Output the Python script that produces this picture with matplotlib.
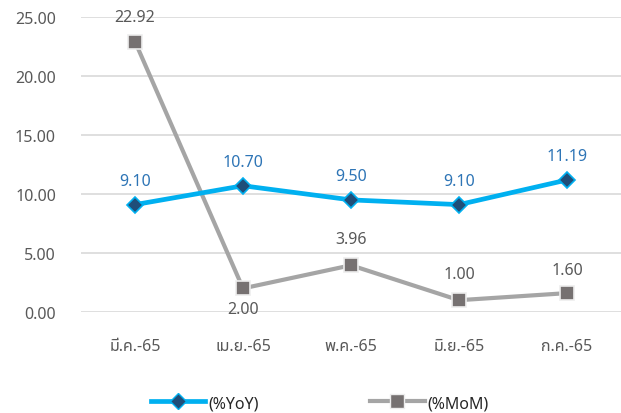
import matplotlib
matplotlib.use("Agg")
import matplotlib.pyplot as plt
from matplotlib.lines import Line2D

plt.rcParams['font.family'] = ['Noto Sans', 'Noto Sans Thai UI']

categories = ["มี.ค.-65", "เม.ย.-65", "พ.ค.-65", "มิ.ย.-65", "ก.ค.-65"]
yoy = [9.10, 10.70, 9.50, 9.10, 11.19]
mom = [22.92, 2.00, 3.96, 1.00, 1.60]
yticks = [0, 5, 10, 15, 20, 25]
series_names = ["(%YoY)", "(%MoM)"]

fs = 11.5
fig = plt.figure(figsize=(6.21, 4.14), dpi=100)
ax = fig.add_axes([81/621, 101/414, 540/621, 295/414])

x = list(range(len(categories)))
ax.plot(x, mom, color='#A5A5A5', lw=3.0, marker='s', ms=10,
        markerfacecolor='#767171', markeredgecolor='#EDEDED', markeredgewidth=1.2, zorder=3)
ax.plot(x, yoy, color='#00B0F0', lw=3.4, marker='D', ms=8,
        markerfacecolor='#1F4E79', markeredgecolor='#00B0F0', markeredgewidth=1.2, zorder=4)

for xi, v in zip(x, yoy):
    ax.annotate(f"{v:.2f}", (xi, v), xytext=(0, 17), textcoords='offset points',
                ha='center', va='center', fontsize=fs, color='#2E75B6')
mom_off = [18, -15, 19, 19, 17]
for xi, v, o in zip(x, mom, mom_off):
    ax.annotate(f"{v:.2f}", (xi, v), xytext=(0, o), textcoords='offset points',
                ha='center', va='center', fontsize=fs, color='#595959')

ax.set_xlim(-0.5, len(categories) - 0.5)
ax.set_ylim(0, 25)
ax.set_yticks(yticks)
ax.set_yticklabels([f"{t:.2f}" for t in yticks])
ax.set_xticks(x)
ax.set_xticklabels(categories)
ax.tick_params(axis='both', length=0, labelsize=fs, labelcolor='#595959')
ax.tick_params(axis='y', pad=18)
ax.tick_params(axis='x', pad=19)
ax.grid(axis='y', color='#D9D9D9', lw=1.2)
ax.set_axisbelow(True)
for s in ax.spines.values():
    s.set_visible(False)

handles = [
    Line2D([], [], color='#00B0F0', lw=3.4, marker='D', ms=8,
           markerfacecolor='#1F4E79', markeredgecolor='#00B0F0'),
    Line2D([], [], color='#A5A5A5', lw=3.0, marker='s', ms=10,
           markerfacecolor='#767171', markeredgecolor='#EDEDED'),
]
fig.legend(handles, series_names, loc='center', bbox_to_anchor=(0.515, 0.024),
           ncol=2, frameon=False, fontsize=fs, handlelength=3.4, columnspacing=7.0,
           handletextpad=0.2, labelcolor='#262626')

fig.savefig("out.png", dpi=100)
